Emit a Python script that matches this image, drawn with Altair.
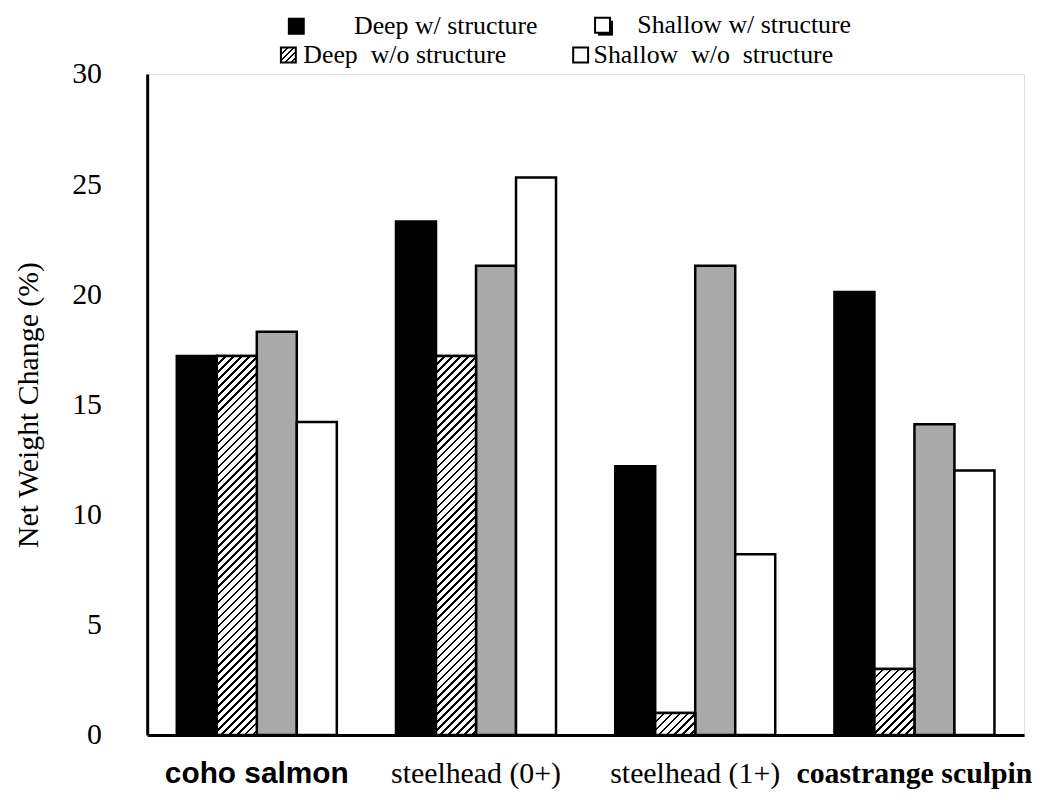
import altair as alt
import pandas as pd

groups = ["coho salmon", "steelhead (0+)", "steelhead (1+)", "coastrange sculpin"]
series = ["Deep w/ structure", "Deep w/o structure", "Shallow w/ structure", "Shallow w/o structure"]
deep_with = [17.2, 23.3, 12.2, 20.1]
deep_without = [17.2, 17.2, 1.0, 3.0]
shallow_with = [18.3, 21.3, 21.3, 14.1]
shallow_without = [14.2, 25.3, 8.2, 12.0]

rows = []
for s, vals in zip(series, [deep_with, deep_without, shallow_with, shallow_without]):
    for g, v in zip(groups, vals):
        rows.append({"group": g, "series": s, "value": v})
df = pd.DataFrame(rows)

# layout / style
W, H = 882, 665
PAD_L, PAD_T = 140, 64
YMAX = 30
PX_PER_UNIT = H / YMAX
STEP = W / (4 - 0.27 + 2 * 0.135)
BAR_W = STEP * 0.73 / 4
SERIF = "Liberation Serif"


def hatch(w, h, period=8.0, line=2.6):
    span = w + h
    stops = []
    k = 0
    while k * period < span:
        a = k * period / span
        b = min((k * period + line) / span, 1.0)
        c = min((k + 1) * period / span, 1.0)
        stops += [{"offset": a, "color": "black"}, {"offset": b, "color": "black"},
                  {"offset": b, "color": "white"}, {"offset": c, "color": "white"}]
        k += 1
    den = w * w + h * h
    return {"gradient": "linear", "x1": 0, "y1": 0,
            "x2": w * span / den, "y2": h * span / den, "stops": stops}


x_enc = alt.X("group:N", sort=groups, title=None,
              scale=alt.Scale(paddingInner=0.27, paddingOuter=0.135),
              axis=alt.Axis(labelAngle=0, labelFontSize=30, labelColor="black", labelLimit=0,
                            labelFont={"expr": "datum.label == 'coho salmon' ? 'Liberation Sans' : 'Liberation Serif'"},
                            labelFontWeight={"expr": "(datum.label == 'coho salmon' || datum.label == 'coastrange sculpin') ? 'bold' : 'normal'"},
                            domainColor="black", domainWidth=3, ticks=False,
                            labelPadding=24))
xo_enc = alt.XOffset("series:N", sort=series,
                     scale=alt.Scale(domain=series, paddingInner=0, paddingOuter=0))
y_enc = alt.Y("value:Q", title="Net Weight Change (%)",
              scale=alt.Scale(domain=[0, YMAX], nice=False),
              axis=alt.Axis(values=[0, 5, 10, 15, 20, 25, 30], grid=False, ticks=False,
                            labelFont=SERIF, labelFontSize=30, labelColor="black",
                            labelPadding=46, titleFont=SERIF, titleFontSize=30,
                            titleFontWeight="normal", titleColor="black", titlePadding=28,
                            domainColor="black", domainWidth=3))

base = alt.Chart(df)
bars = base.mark_bar(stroke="black", strokeWidth=2.5).encode(
    x=x_enc, xOffset=xo_enc, y=y_enc,
    fill=alt.Fill("series:N", scale=alt.Scale(domain=series,
                                               range=["black", "white", "#a9a9a9", "white"]),
                  legend=None),
)

layers = [bars]
for g, v in zip(groups, deep_without):
    h = v * PX_PER_UNIT
    layers.append(
        base.transform_filter(
            (alt.datum.group == g) & (alt.datum.series == "Deep w/o structure")
        ).mark_bar(stroke="black", strokeWidth=2.5, fill=hatch(BAR_W, h)).encode(
            x=x_enc, xOffset=xo_enc, y=y_enc)
    )

# manual legend (two rows, as in the original)
legend_labels = ["Deep\u00a0w/ structure", "Shallow\u00a0w/ structure",
                 "Deep\u00a0 w/o\u00a0structure", "Shallow\u00a0 w/o\u00a0 structure"]
leg_sq = [(298, 24), (606, 23), (290, 53), (584, 53)]
leg_tx = [356, 641, 305, 597]
SQ = 15

def px(x):
    return x - PAD_L - 8

def py(y):
    return y - PAD_T - 8

leg_df = pd.DataFrame({"label": legend_labels})
for i, lab in enumerate(legend_labels):
    cx, cy = leg_sq[i]
    one = alt.Chart(leg_df).transform_filter(alt.datum.label == lab)
    if i == 1:
        layers.append(one.mark_rect(fill="black").encode(
            x=alt.value(px(cx - SQ / 2 + 3)), x2=alt.value(px(cx + SQ / 2 + 3)),
            y=alt.value(py(cy - SQ / 2 + 3)), y2=alt.value(py(cy + SQ / 2 + 3))))
    if i == 0:
        fill = "black"
    elif i == 2:
        fill = hatch(SQ, SQ, period=6.0, line=2.2)
    else:
        fill = "white"
    layers.append(one.mark_rect(fill=fill, stroke="black", strokeWidth=2).encode(
        x=alt.value(px(cx - SQ / 2)), x2=alt.value(px(cx + SQ / 2)),
        y=alt.value(py(cy - SQ / 2)), y2=alt.value(py(cy + SQ / 2))))
    layers.append(one.mark_text(align="left", baseline="middle", font=SERIF,
                                fontSize=26, color="black").encode(
        text="label:N", x=alt.value(px(leg_tx[i])), y=alt.value(py(cy))))

chart = alt.layer(*layers).properties(
    width=W, height=H,
    padding={"left": PAD_L, "top": PAD_T, "right": 8, "bottom": 55},
    autosize=alt.AutoSizeParams(type="none"),
).configure_view(stroke=None).configure(background="white")

chart.save("out.html", embed_options={"renderer": "svg", "actions": False})
